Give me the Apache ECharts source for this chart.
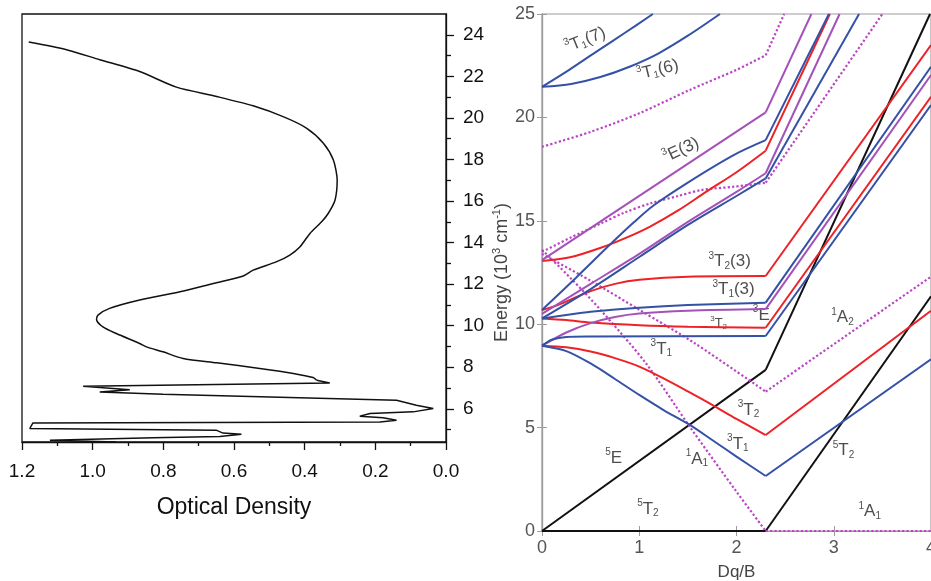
<!DOCTYPE html>
<html><head><meta charset="utf-8">
<script src="https://cdn.jsdelivr.net/npm/echarts@6/dist/echarts.min.js"></script>
<style>html,body{margin:0;padding:0;background:#fff}#c{width:931px;height:581px}</style>
</head><body><div id="c"></div>
<script>
// ---------- Left panel: optical density spectrum ----------
const specE = [23.65,23.28,22.80,22.23,21.48,21.03,20.58,20.06,19.50,18.78,17.98,17.01,16.05,15.41,15.00,14.44,13.80,13.40,13.08,12.67,12.39,12.03,11.63,11.23,10.83,10.51,10.30,9.94,9.62,9.14,8.98,8.74,8.42,8.21,7.94,7.70,7.50,7.37,7.24,7.08,6.92,6.81,6.70,6.41,6.17,6.01,5.85,5.77,5.64,5.57,5.45,5.36,5.32,5.05,4.96,4.83,4.77,4.67,4.61,4.48,4.40];
const specOD = [1.181,1.074,0.980,0.867,0.763,0.649,0.546,0.461,0.394,0.347,0.319,0.308,0.314,0.333,0.352,0.385,0.413,0.442,0.479,0.546,0.574,0.659,0.753,0.867,0.952,0.985,0.989,0.971,0.933,0.867,0.848,0.801,0.744,0.649,0.527,0.432,0.376,0.366,0.329,1.027,0.895,0.980,0.801,0.140,0.084,0.036,0.093,0.215,0.244,0.178,0.140,0.187,1.169,1.178,0.649,0.631,0.579,0.640,0.829,1.121,0.933];
const eMajor = [6,8,10,12,14,16,18,20,22,24];
const eMinor = [5,7,9,11,13,15,17,19,21,23];
const BROAD_END = 37; // index where the smooth broad band meets the sharp structure

// ---------- Right panel: Tanabe-Sugano curves ([Dq/B, E]) ----------
const KINK = 2.3;
// blue: triplet T1
const t1_7   = [[0,21.48],[0.28,22.3],[0.56,23.18],[0.85,24.08],[1.14,25]];
const t1_6   = [[0,21.48],[0.3,21.62],[0.6,21.95],[0.9,22.45],[1.2,23.1],[1.5,23.95],[1.83,25]];
const t1_a   = [[0,10.69],[0.35,12.25],[0.7,13.85],[0.95,14.95],[1.15,15.75],[1.5,16.85],[1.98,18.2],[2.3,18.9],[2.95,25]];
const t1_b   = [[0,10.28],[0.5,11.7],[1.0,13.25],[1.5,14.8],[2.0,16.2],[2.3,17.05],[3.26,25]];
const t1_3   = [[0,10.28],[0.25,10.45],[0.5,10.6],[1.0,10.8],[1.5,10.93],[2.3,11.04],[4,22.45]];
const t1_f   = [[0,8.96],[0.1,9.25],[0.25,9.38],[0.5,9.4],[2.3,9.43],[4,20.6]];
const t1_low = [[0,8.96],[0.25,8.7],[0.5,8.1],[0.75,7.35],[1.0,6.58],[1.25,5.85],[1.52,5.13],[1.75,4.4],[2.0,3.6],[2.3,2.66],[4,8.3]];
// red: triplet T2
const t2_a   = [[0,13.06],[0.3,13.25],[0.59,13.67],[0.85,14.15],[1.107,14.71],[1.4,15.5],[1.69,16.41],[2.0,17.35],[2.3,18.39],[2.96,25]];
const t2_3   = [[0,10.69],[0.15,10.9],[0.3,11.2],[0.5,11.6],[0.75,11.95],[1.0,12.15],[1.5,12.3],[2.3,12.33],[4,23.5]];
const t2_m   = [[0,10.28],[0.25,10.2],[0.5,10.08],[1.0,9.95],[1.5,9.88],[2.3,9.83],[4,21.0]];
const t2_low = [[0,8.96],[0.25,8.88],[0.5,8.68],[0.75,8.36],[1.0,7.95],[1.25,7.38],[1.5,6.75],[1.75,6.1],[2.0,5.42],[2.3,4.64],[4,10.65]];
// purple: triplet E
const e_3    = [[0,13.1],[2.3,20.24],[2.77,25]];
const e_b    = [[0,10.5],[0.5,11.95],[1.0,13.4],[1.5,14.95],[2.0,16.4],[2.3,17.3],[3.06,25]];
const e_1    = [[0,8.96],[0.25,9.6],[0.5,10.05],[0.75,10.35],[1.0,10.52],[1.5,10.65],[2.3,10.73],[4,22.05]];
// dotted magenta: singlets
const s_top  = [[0,18.58],[0.5,19.3],[1.0,20.2],[1.52,21.33],[2.0,22.3],[2.3,23.0],[2.49,25]];
const s_c    = [[0,13.5],[0.3,14.2],[0.61,14.88],[0.85,15.4],[1.12,15.85],[1.4,16.2],[1.64,16.49],[1.98,16.65],[2.3,16.84],[3.5,25]];
const s_a2   = [[0,13.4],[0.5,12.1],[1.0,10.7],[1.57,9.08],[2.3,6.74],[4,12.3]];
const s_a1   = [[0,13.6],[0.3,12.2],[0.6,10.7],[1.07,8.1],[1.52,5.04],[2.0,1.9],[2.3,0],[4,0]];
// black: quintets
const q_e    = [[0,0],[2.3,7.79],[3.99,25]];
const q_t2   = [[0,0],[2.3,0],[4,11.35]];

// annotations: [rich text, Dq/B, E]
const tsLabels = [
  ['{sup|3}T{sub|1}(7)', 0.446, 23.74],
  ['{sup|3}T{sub|1}(6)', 1.19, 22.29],
  ['{sup|3}E(3)', 1.43, 18.42],
  ['{sup|3}T{sub|2}(3)', 1.93, 13.02],
  ['{sup|3}T{sub|1}(3)', 1.97, 11.69],
  ['{ss|3}{sm|T}{sb|2}', 1.816, 10.04],
  ['{sup|3}E', 2.255, 10.44],
  ['{sup|1}A{sub|2}', 3.09, 10.33],
  ['{sup|3}T{sub|1}', 1.227, 8.80],
  ['{sup|3}T{sub|2}', 2.124, 5.85],
  ['{sup|3}T{sub|1}', 2.014, 4.21],
  ['{sup|5}E', 0.737, 3.52],
  ['{sup|1}A{sub|1}', 1.593, 3.48],
  ['{sup|5}T{sub|2}', 3.10, 3.88],
  ['{sup|5}T{sub|2}', 1.089, 1.06],
  ['{sup|1}A{sub|1}', 3.37, 0.93]
];
const labelRotate = [22, 14, 25, 0,0,0,0,0,0,0,0,0,0,0,0,0];

const BLUE = '#3451a6', RED = '#ee2126', PURPLE = '#a552b8', DOT = '#bb44c6', BLACK = '#111';
const FONT = '"Liberation Sans", Arial, Helvetica, sans-serif';

// each curve: smooth part for Dq/B <= KINK, straight part after it
function curve(data, color, dotted) {
  const left = data.filter(p => p[0] <= KINK + 1e-9);
  const right = data.filter(p => p[0] >= KINK - 1e-9);
  const style = { color: color, width: dotted ? 2.2 : 2, type: dotted ? 'dotted' : 'solid' };
  const base = { type: 'line', xAxisIndex: 1, yAxisIndex: 2, symbol: 'none', animation: false, silent: true, clip: true };
  const out = [Object.assign({}, base, { data: left, smooth: left.length > 2 ? 0.3 : false, lineStyle: style })];
  if (right.length > 1) out.push(Object.assign({}, base, { data: right, smooth: false, lineStyle: style }));
  return out;
}

const richText = {
  sup: { fontSize: 10, padding: [0, 0, 11, 0], color: '#222', fontFamily: FONT },
  sub: { fontSize: 10, padding: [9, 0, 0, 0], color: '#222', fontFamily: FONT },
  ss: { fontSize: 8, padding: [0, 0, 9, 0], color: '#222', fontFamily: FONT },
  sm: { fontSize: 13, color: '#222', fontFamily: FONT },
  sb: { fontSize: 8, padding: [7, 0, 0, 0], color: '#222', fontFamily: FONT }
};

const chart = echarts.init(document.getElementById('c'), null, { renderer: 'canvas' });
const grayAx = '#9c9c9c';
const specPts = specE.map((e, i) => [specOD[i], e]);
const specBase = { type: 'line', xAxisIndex: 0, yAxisIndex: 0, symbol: 'none', silent: true, animation: false,
  lineStyle: { color: '#111', width: 1.5 } };
const tsSeries = [].concat(
  curve(q_t2, BLACK), curve(q_e, BLACK),
  curve(s_top, DOT, true), curve(s_c, DOT, true), curve(s_a2, DOT, true), curve(s_a1, DOT, true),
  curve(t2_a, RED), curve(t2_3, RED), curve(t2_m, RED), curve(t2_low, RED),
  curve(e_3, PURPLE), curve(e_b, PURPLE), curve(e_1, PURPLE),
  curve(t1_7, BLUE), curve(t1_6, BLUE), curve(t1_a, BLUE), curve(t1_b, BLUE), curve(t1_3, BLUE), curve(t1_f, BLUE), curve(t1_low, BLUE)
);
const option = {
  animation: false,
  textStyle: { fontFamily: FONT },
  grid: [
    { left: 22, top: 14, width: 424, height: 428, show: true, borderColor: '#111', borderWidth: 1.3,
      backgroundColor: 'transparent', containLabel: false, outerBoundsMode: 'none' },
    { left: 542, top: 14, width: 389, height: 517, show: true, borderColor: grayAx, borderWidth: 1.2,
      backgroundColor: 'transparent', containLabel: false, outerBoundsMode: 'none' }
  ],
  xAxis: [
    { gridIndex: 0, type: 'value', min: 0, max: 1.2, interval: 0.2, inverse: true,
      name: 'Optical Density', nameLocation: 'middle', nameGap: 54,
      nameTextStyle: { fontSize: 23, color: '#111', fontFamily: FONT },
      axisLine: { show: true, lineStyle: { color: '#111', width: 1.3 } },
      axisTick: { show: true, length: 8, lineStyle: { color: '#111', width: 1.3 } },
      minorTick: { show: true, splitNumber: 2, length: 4, lineStyle: { color: '#111', width: 1.3 } },
      axisLabel: { fontSize: 19, color: '#111', margin: 20, formatter: v => v.toFixed(1) },
      splitLine: { show: false } },
    { gridIndex: 1, type: 'value', min: 0, max: 4, interval: 1,
      name: 'Dq/B', nameLocation: 'middle', nameGap: 33,
      nameTextStyle: { fontSize: 17, color: '#444', fontFamily: FONT },
      axisLine: { show: true, lineStyle: { color: grayAx, width: 1.2 } },
      axisTick: { show: true, inside: true, length: 5, lineStyle: { color: grayAx } },
      axisLabel: { fontSize: 18, color: '#555', margin: 8 },
      splitLine: { show: false } },
    { gridIndex: 1, type: 'value', min: 0, max: 4, interval: 1, position: 'top',
      axisLine: { show: true, lineStyle: { color: grayAx, width: 1.2 } },
      axisTick: { show: true, inside: true, length: 5, lineStyle: { color: grayAx } },
      axisLabel: { show: false }, splitLine: { show: false } }
  ],
  yAxis: [
    { gridIndex: 0, type: 'value', min: 4.4, max: 25, position: 'right',
      axisLine: { show: true, lineStyle: { color: '#111', width: 1.3 } },
      axisTick: { show: true, length: 8, customValues: eMajor, lineStyle: { color: '#111', width: 1.3 } },
      axisLabel: { fontSize: 19, color: '#111', margin: 17, customValues: eMajor },
      splitLine: { show: false } },
    { gridIndex: 0, type: 'value', min: 4.4, max: 25, position: 'right',
      axisLine: { show: false },
      axisTick: { show: true, length: 5, customValues: eMinor, lineStyle: { color: '#111', width: 1.3 } },
      axisLabel: { show: false }, splitLine: { show: false } },
    { gridIndex: 1, type: 'value', min: 0, max: 25, interval: 5,
      name: 'Energy (10{sup|3} cm{sup|-1})', nameLocation: 'middle', nameGap: 23, nameRotate: 90,
      nameTextStyle: { fontSize: 18, color: '#444', fontFamily: FONT,
        rich: { sup: { fontSize: 11, color: '#444', padding: [0, 0, 10, 0], fontFamily: FONT } } },
      axisLine: { show: true, lineStyle: { color: grayAx, width: 1.2 } },
      axisTick: { show: true, inside: true, length: 5, lineStyle: { color: grayAx } },
      axisLabel: { fontSize: 18, color: '#555', margin: 7 },
      splitLine: { show: false } },
    { gridIndex: 1, type: 'value', min: 0, max: 25, interval: 5, position: 'right',
      axisLine: { show: true, lineStyle: { color: grayAx, width: 1.2 } },
      axisTick: { show: true, inside: true, length: 5, lineStyle: { color: grayAx } },
      axisLabel: { show: false }, splitLine: { show: false } }
  ],
  series: [
    Object.assign({}, specBase, { data: specPts.slice(0, BROAD_END + 1), smooth: 0.25 }),
    Object.assign({}, specBase, { data: specPts.slice(BROAD_END), smooth: false })
  ].concat(tsSeries, [
    { type: 'scatter', xAxisIndex: 1, yAxisIndex: 2, symbolSize: 0, silent: true, animation: false,
      data: tsLabels.map((l, i) => ({ value: [l[1], l[2]],
        label: { show: true, position: 'inside', rotate: labelRotate[i], formatter: l[0],
          fontSize: 17, color: '#222', fontFamily: FONT, rich: richText } })) }
  ])
};
chart.setOption(option);
</script>
</body></html>
